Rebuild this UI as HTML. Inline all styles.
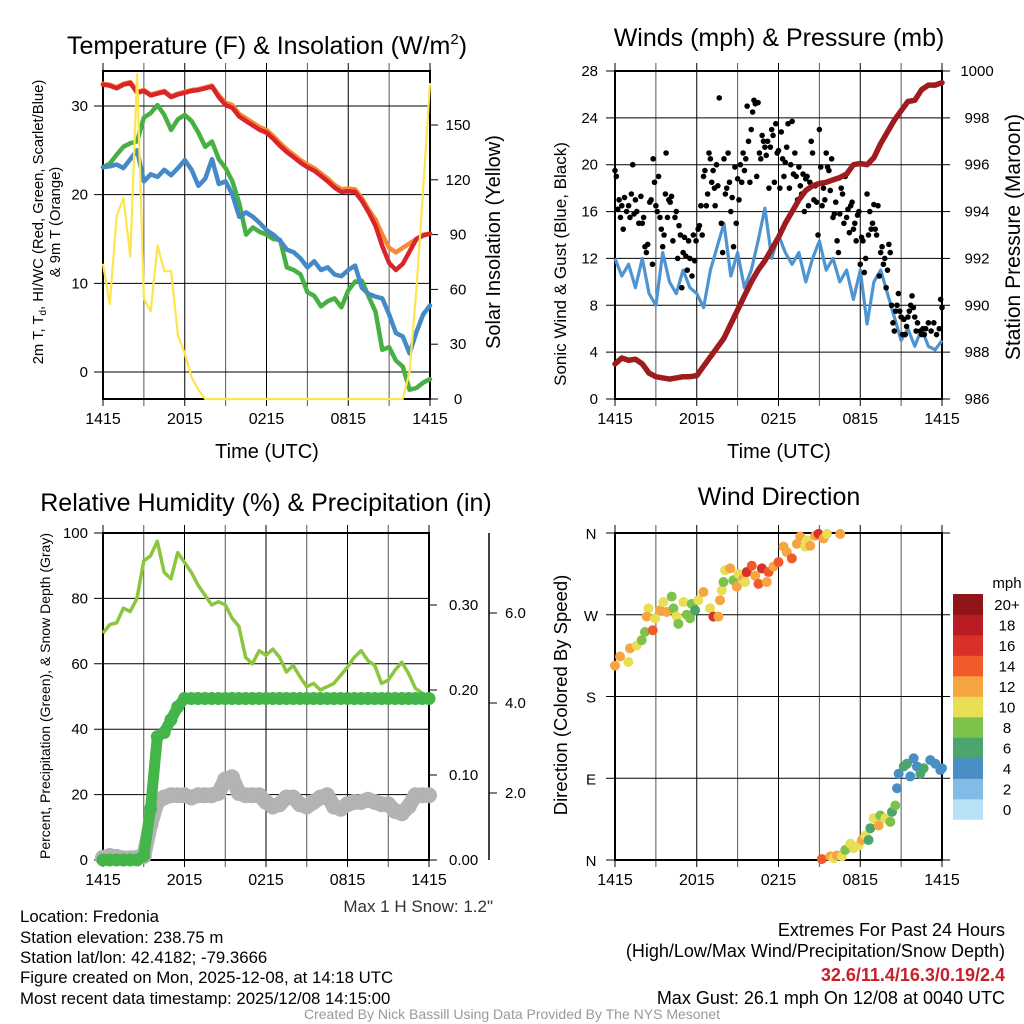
<!DOCTYPE html>
<html><head><meta charset="utf-8"><title>Fredonia Mesonet</title>
<style>
html,body{margin:0;padding:0;background:#fff;}
svg{display:block;font-family:"Liberation Sans",Arial,sans-serif;}
</style></head>
<body>
<svg id="chart" width="1024" height="1024" viewBox="0 0 1024 1024" xmlns="http://www.w3.org/2000/svg">
<rect width="1024" height="1024" fill="#fff"/>
<text x="267" y="54" font-size="25" text-anchor="middle">Temperature (F) &amp; Insolation (W/m<tspan font-size="15" dy="-10">2</tspan><tspan dy="10">)</tspan></text>
<text x="779" y="46" font-size="25" text-anchor="middle">Winds (mph) &amp; Pressure (mb)</text>
<text x="266" y="511" font-size="25" text-anchor="middle">Relative Humidity (%) &amp; Precipitation (in)</text>
<text x="779" y="505" font-size="25" text-anchor="middle">Wind Direction</text>
<g font-size="14.8">
<text transform="translate(43,222) rotate(-90)" text-anchor="middle">2m T, T<tspan font-size="10" dy="3">d</tspan><tspan dy="-3">, HI/WC (Red, Green, Scarlet/Blue)</tspan></text>
<text transform="translate(60,222) rotate(-90)" text-anchor="middle">&amp; 9m T (Orange)</text>
</g>
<text transform="translate(500,242) rotate(-90)" text-anchor="middle" font-size="20">Solar Insolation (Yellow)</text>
<text x="267" y="458" font-size="20" text-anchor="middle">Time (UTC)</text>
<text transform="translate(566,264) rotate(-90)" text-anchor="middle" font-size="17">Sonic Wind &amp; Gust (Blue, Black)</text>
<text transform="translate(1020,237) rotate(-90)" text-anchor="middle" font-size="21">Station Pressure (Maroon)</text>
<text x="779" y="458" font-size="20" text-anchor="middle">Time (UTC)</text>
<text transform="translate(50,696) rotate(-90)" text-anchor="middle" font-size="14">Percent, Precipitation (Green), &amp; Snow Depth (Gray)</text>
<text x="493" y="912" font-size="17" text-anchor="end" fill="#333">Max 1 H Snow: 1.2"</text>
<text transform="translate(567,695) rotate(-90)" text-anchor="middle" font-size="18.5">Direction (Colored By Speed)</text>
<g font-size="16.8">
<text x="20" y="922">Location: Fredonia</text>
<text x="20" y="943">Station elevation: 238.75 m</text>
<text x="20" y="963">Station lat/lon: 42.4182; -79.3666</text>
<text x="20" y="983">Figure created on Mon, 2025-12-08, at 14:18 UTC</text>
<text x="20" y="1004">Most recent data timestamp: 2025/12/08 14:15:00</text>
</g>
<g font-size="18" text-anchor="end">
<text x="1005" y="936">Extremes For Past 24 Hours</text>
<text x="1005" y="957">(High/Low/Max Wind/Precipitation/Snow Depth)</text>
<text x="1005" y="981" fill="#c8202a" font-weight="bold">32.6/11.4/16.3/0.19/2.4</text>
<text x="1005" y="1004">Max Gust: 26.1 mph On 12/08 at 0040 UTC</text>
</g>
<text x="512" y="1019" font-size="14" text-anchor="middle" fill="#999">Created By Nick Bassill Using Data Provided By The NYS Mesonet</text>
</svg>
<script>
// ---- data (half-hourly from 1415 UTC, 49 points) ----
const timeLabels = ["1415","2015","0215","0815","1415"];
const tempRed = [32.4,32.3,32.0,32.4,32.6,31.5,31.7,31.2,31.4,31.6,31.0,31.3,31.5,31.7,31.8,32.0,32.2,31.0,30.1,29.8,28.8,28.3,27.8,27.3,27.0,26.3,25.5,24.8,24.2,23.6,23.1,22.7,22.1,21.5,20.8,20.3,20.4,20.3,19.3,18.0,16.5,14.2,12.3,11.5,12.2,13.6,15.0,15.4,15.6];
const tempOrange = [32.5,32.4,32.1,32.5,32.7,31.6,31.8,31.3,31.5,31.7,31.1,31.4,31.6,31.8,31.9,32.1,32.3,31.2,30.4,30.1,29.1,28.6,28.1,27.6,27.3,26.6,25.8,25.1,24.5,23.9,23.4,23.0,22.4,21.8,21.1,20.6,20.7,20.6,19.6,18.3,17.2,15.5,14.0,13.5,14.0,14.5,15.0,15.5,15.6];
const tempGreen = [23.1,23.5,24.5,25.4,25.8,26.0,28.7,29.2,30.1,29.0,27.3,28.5,29.0,28.3,27.0,25.4,26.0,24.0,23.0,21.5,19.0,15.5,16.3,15.8,15.5,15.0,14.9,11.8,11.5,11.0,9.0,8.6,7.4,8.0,8.3,7.3,9.2,10.2,10.3,8.5,6.8,2.5,2.8,1.3,0.6,-2.0,-1.8,-1.2,-0.8];
const tempBlue = [23.1,23.2,23.4,23.0,24.0,25.0,21.5,22.3,22.0,22.8,22.2,23.0,23.9,22.8,21.0,21.8,24.0,21.2,21.5,20.0,17.5,18.0,17.5,16.8,16.0,15.5,14.8,13.8,13.5,12.8,11.8,12.5,11.5,11.8,11.0,10.8,11.5,12.0,9.5,8.8,8.5,8.3,6.5,4.4,4.0,2.1,4.5,6.5,7.5];
const solar = [74,52,100,110,78,178,55,48,84,70,70,35,25,12,5,0,0,0,0,0,0,0,0,0,0,0,0,0,0,0,0,0,0,0,0,0,0,0,0,0,0,0,0,0,0,15,60,115,173];
const tempTicks = [0,10,20,30];
const solarTicks = [0,30,60,90,120,150];

const windSust = [12,10.5,11.5,9.5,12,9,8,12.5,10,9,11,9.5,9,7.8,11,13,15,10.5,12.5,9.5,11,13.5,16.3,12,14,12.5,11.5,12.5,10,12,13.5,11,12,10,11,8.5,11,6.4,10,11,9,7,5,6,4.5,6,4.5,4.2,5];
const pressure = [987.5,987.75,987.65,987.7,987.5,987.1,986.95,986.9,986.85,986.9,986.95,986.95,987.0,987.4,987.8,988.2,988.6,989.2,989.8,990.4,991.0,991.5,991.9,992.4,992.9,993.5,994.0,994.5,994.9,995.1,995.2,995.25,995.35,995.45,995.6,996.0,996.05,996.0,996.3,996.9,997.4,997.9,998.3,998.7,998.75,999.2,999.4,999.4,999.5];
const gustT = [0.0,0.1,0.2,0.3,0.4,0.5,0.6,0.7,0.85,1.0,1.1,1.2,1.3,1.4,1.5,1.6,1.75,1.9,2.0,2.1,2.2,2.3,2.4,2.55,2.65,2.75,2.8,2.9,3.0,3.1,3.2,3.3,3.4,3.5,3.6,3.7,3.75,3.85,3.95,4.05,4.15,4.25,4.4,4.5,4.6,4.7,4.8,4.9,5.0,5.1,5.2,5.3,5.4,5.5,5.65,5.75,5.85,5.95,6.1,6.2,6.3,6.4,6.5,6.6,6.7,6.8,6.9,7.0,7.1,7.2,7.3,7.35,7.45,7.55,7.65,7.8,7.9,8.0,8.1,8.2,8.3,8.4,8.5,8.6,8.7,8.8,8.9,9.0,9.1,9.2,9.3,9.4,9.5,9.6,9.7,9.8,9.9,10.0,10.1,10.2,10.3,10.4,10.5,10.6,10.7,10.8,10.9,11.0,11.1,11.2,11.3,11.4,11.5,11.6,11.7,11.8,11.9,12.0,12.1,12.2,12.3,12.4,12.5,12.6,12.7,12.8,12.9,13.0,13.1,13.2,13.3,13.4,13.5,13.6,13.7,13.8,13.9,14.0,14.1,14.2,14.3,14.4,14.5,14.6,14.7,14.8,14.9,15.0,15.1,15.2,15.3,15.4,15.5,15.6,15.7,15.8,15.9,16.0,16.1,16.2,16.3,16.4,16.5,16.6,16.7,16.8,16.9,17.0,17.1,17.2,17.3,17.4,17.5,17.6,17.7,17.8,17.9,18.0,18.1,18.2,18.3,18.4,18.5,18.6,18.7,18.8,18.9,19.0,19.1,19.2,19.3,19.4,19.5,19.6,19.7,19.8,19.9,20.0,20.1,20.2,20.3,20.4,20.5,20.6,20.7,20.8,20.9,21.0,21.1,21.2,21.3,21.4,21.5,21.6,21.7,21.8,21.9,22.0,22.1,22.2,22.4,22.5,22.6,22.7,22.8,23.0,23.2,23.4,23.6,23.8,23.9,24.0];
const gustV = [19.5,19.0,16.2,17.0,15.5,16.5,14.5,17.2,16.0,16.5,15.5,17.5,20.0,15.8,17.0,16.0,15.0,17.3,15.0,15.5,13.0,12.5,13.2,16.8,17.0,11.5,20.5,18.5,16.5,16.0,19.0,15.5,14.5,13.0,14.0,17.5,21.0,15.5,17.0,16.8,17.3,13.5,15.5,16.0,12.0,14.8,14.0,9.5,12.5,13.8,12.2,11.0,13.5,12.0,10.5,14.0,11.8,13.5,14.5,14.8,16.5,14.0,19.0,19.5,16.5,17.5,21.0,20.5,18.5,19.5,18.0,16.5,20.0,18.2,25.7,15.0,12.5,20.5,17.5,18.0,21.0,18.5,16.0,17.2,13.0,19.8,15.0,18.8,17.0,20.0,18.5,21.0,19.5,20.5,25.0,22.0,18.5,23.0,24.5,25.5,25.2,19.0,25.3,21.0,20.5,22.5,22.0,21.5,20.8,22.0,18.0,21.5,23.0,22.5,18.5,23.5,21.0,21.2,18.0,22.8,20.5,19.0,20.2,21.5,23.5,18.0,20.0,23.7,19.2,21.0,19.0,17.0,19.8,18.2,17.5,19.2,16.0,18.8,19.0,16.5,18.5,22.0,21.0,17.0,18.2,16.8,14.0,23.0,19.8,16.5,18.0,17.0,21.0,19.8,19.5,17.8,20.5,15.5,15.8,16.8,13.5,12.5,15.8,18.0,17.5,15.0,19.0,15.5,16.2,14.2,16.5,16.8,14.5,15.0,13.5,15.7,16.0,11.5,13.8,13.5,10.8,12.0,17.5,14.0,16.0,14.5,15.0,16.6,14.5,14.0,16.5,10.5,12.5,13.0,11.5,12.0,9.5,11.0,13.2,12.5,8.0,6.5,5.8,7.5,8.0,9.0,7.5,7.0,5.5,6.8,5.5,6.2,7.0,7.5,8.0,8.8,7.8,7.0,5.8,6.5,5.8,5.5,6.0,5.5,6.0,6.5,5.8,6.5,5.5,6.0,8.5,7.8];
const windTicks = [0,4,8,12,16,20,24,28];
const pressTicks = [986,988,990,992,994,996,998,1000];

const rh = [69.4,72,72.5,77,76,80,91.5,93,97.5,88,86,94,91,88,84,81,78,79,78,74,71.5,62,60,64,62.6,64.5,62,57.5,59.5,56,53,54,52,53,54,56.5,59,62,64,61,59.5,54,55,58,60.5,57,52.5,51,50];
const precip = [0,0,0,0,0,0,0.005,0.06,0.145,0.15,0.165,0.18,0.19,0.19,0.19,0.19,0.19,0.19,0.19,0.19,0.19,0.19,0.19,0.19,0.19,0.19,0.19,0.19,0.19,0.19,0.19,0.19,0.19,0.19,0.19,0.19,0.19,0.19,0.19,0.19,0.19,0.19,0.19,0.19,0.19,0.19,0.19,0.19,0.19];
const snow = [0.56,0.6,0.58,0.55,0.55,0.56,0.6,1.3,1.8,1.9,1.95,1.95,1.95,1.9,1.95,1.95,1.95,2.0,2.3,2.35,2.0,1.95,1.95,1.95,1.8,1.7,1.75,1.9,1.9,1.75,1.7,1.8,1.9,1.95,1.7,1.65,1.75,1.8,1.8,1.85,1.8,1.75,1.75,1.6,1.55,1.7,1.95,1.95,1.95];
const rhTicks = [0,20,40,60,80,100];
const precipTicks = ["0.00","0.10","0.20","0.30"];
const snowTicks = ["2.0","4.0","6.0"];

const dirT = [0,0.37,0.98,1.1,1.59,1.96,2.2,2.45,2.33,2.77,2.94,3.31,3.55,3.8,4.16,4.29,4.53,4.65,5.02,5.27,5.51,5.63,5.88,6.12,6.49,6.98,7.22,7.59,7.71,7.84,7.96,8.08,8.45,8.69,8.94,9.06,9.43,9.55,9.67,10.04,10.29,10.53,10.78,11.14,11.27,11.63,12.0,12.37,12.61,12.98,13.35,13.59,13.96,14.08,14.33,14.69,14.94,15.31,15.55,16.53,15.18,15.8,16.04,16.29,16.65,16.9,17.27,17.51,17.88,18.12,18.37,18.61,18.74,18.98,19.35,19.47,19.84,20.21,20.33,20.57,20.7,20.82,21.19,21.43,21.67,21.92,22.16,22.41,22.65,23.14,23.51,23.88,24.0];
const dirDeg = [214,224,218,233,236,242,251,277,268,253,266,275,284,273,290,277,268,260,284,270,266,282,275,286,295,277,268,268,286,297,306,319,321,308,301,315,310,306,317,324,313,304,321,306,317,323,328,345,339,332,348,356,345,352,346,357,359,354,359,359,1,4,2,5,4,11,18,13,16,22,27,22,35,46,38,49,46,42,53,60,79,95,103,106,92,112,103,95,101,110,106,99,101];
const dirSpeed = [12,12,10,12,10,8,8,10,12,14,10,12,10,12,8,8,10,8,10,8,8,8,6,10,12,10,16,12,12,10,8,10,12,8,12,10,12,10,16,14,12,14,16,12,14,12,14,12,12,14,12,12,10,10,12,12,16,12,10,12,14,12,10,12,10,8,10,10,10,12,10,6,6,10,12,8,10,8,6,8,4,4,6,6,4,4,4,6,6,4,4,4,4];
const dirTicks = ["N","E","S","W","N"];
const speedBins = ["0","2","4","6","8","10","12","14","16","18","20+"];
const speedColors = ["#b7e1f7","#82bbe5","#4a8ec6","#4aa66c","#7dc24b","#e8df56","#f7a541","#ef5b2a","#d9302a","#b91c24","#8f1518"];

// ---- drawing ----
const NS = "http://www.w3.org/2000/svg";
const svg = document.getElementById('chart');
function mk(tag, attrs, parent){
  const e = document.createElementNS(NS, tag);
  for (const k in attrs) e.setAttribute(k, attrs[k]);
  (parent || svg).appendChild(e);
  return e;
}
function linScale(d0, d1, r0, r1){ return v => r0 + (v - d0) / (d1 - d0) * (r1 - r0); }
function pathFrom(vals, xs, ys){
  return vals.map((v,i)=> (i?'L':'M') + xs(i/2).toFixed(1) + ',' + ys(v).toFixed(1)).join('');
}

function frame(g, x0, x1, yT, yB, name){
  const xs = linScale(0, 24, x0, x1);
  for (let h = 0; h <= 24; h += 3){
    const ln = mk('line', {x1: xs(h), x2: xs(h), y1: yT - 8, y2: yB + 7, stroke: (h % 6 === 0) ? '#000' : '#555', 'stroke-width': 1}, g);
    
    
  }
  timeLabels.forEach((lab, i) => {
    const t = mk('text', {x: xs(i * 6), y: yB + 25, 'font-size': 16, 'text-anchor': 'middle'}, g);
    t.textContent = lab;
    
    
  });
  const r = mk('rect', {x: x0, y: yT, width: x1 - x0, height: yB - yT, fill: 'none', stroke: '#000', 'stroke-width': 2}, g);
  
  
  return xs;
}
function hTicks(g, ticks, ys, x0, x1, labX, anchor, name, grid, vals){
  ticks.forEach((tv, i) => {
    const v = vals ? vals[i] : tv;
    const y = ys(v);
    const ln = mk('line', {x1: grid ? x0 - 9 : x0, x2: x1, y1: y, y2: y, stroke: '#000', 'stroke-width': 1}, g);
    
    
    const t = mk('text', {x: labX, y: y + 5, 'font-size': 15, 'text-anchor': anchor}, g);
    t.textContent = tv;
    
    
  });
}

// Panel 1
(function(){
  const g = mk('g', {});
  
  
  const x0 = 103, x1 = 430, yT = 71, yB = 399;
  const xs = frame(g, x0, x1, yT, yB, 'temp');
  const yL = linScale(0, 30, 372, 106);
  const yR = linScale(0, 150, 399, 125);
  hTicks(g, tempTicks, yL, x0, x1, 88, 'end', 'temp-y', true);
  hTicks(g, solarTicks, yR, x1, x1 + 8, 458, 'middle', 'solar-y', false);
  const series = [[tempOrange,'#f58a33','temp-9m-line'],[tempRed,'#d9252a','temp-2m-line'],[tempGreen,'#47b043','dewpoint-line'],[tempBlue,'#4489c8','windchill-line']];
  series.forEach(s => {
    const p = mk('path', {d: pathFrom(s[0], xs, yL), fill: 'none', stroke: s[1], 'stroke-width': 4.5, 'stroke-linejoin': 'round', 'stroke-linecap': 'round'}, g);
    
    
  });
  const ps = mk('path', {d: pathFrom(solar, xs, yR), fill: 'none', stroke: '#fde54d', 'stroke-width': 2.2, 'stroke-linejoin': 'round'}, g);
  
  
})();

// Panel 2
(function(){
  const g = mk('g', {});
  
  
  const x0 = 615, x1 = 942, yT = 71, yB = 399;
  const xs = frame(g, x0, x1, yT, yB, 'wind');
  const yL = linScale(0, 28, 399, 71);
  const yR = linScale(986, 1000, 399, 71);
  hTicks(g, windTicks, yL, x0, x1, 598, 'end', 'wind-y', true);
  hTicks(g, pressTicks, yR, x1, x1 + 8, 977, 'middle', 'pressure-y', false);
  const pw = mk('path', {d: pathFrom(windSust, xs, yL), fill: 'none', stroke: '#4d94d2', 'stroke-width': 3.2, 'stroke-linejoin': 'round'}, g);
  
  
  gustT.forEach((t, i) => {
    const c = mk('circle', {cx: xs(t), cy: yL(gustV[i]), r: 2.8, fill: '#000'}, g);
    
    
  });
  const pp = mk('path', {d: pathFrom(pressure, xs, yR), fill: 'none', stroke: '#9e1b1e', 'stroke-width': 5.5, 'stroke-linejoin': 'round', 'stroke-linecap': 'round'}, g);
  
  
})();

// Panel 3
(function(){
  const g = mk('g', {});
  
  
  const x0 = 103, x1 = 429, yT = 533, yB = 860;
  const xs = frame(g, x0, x1, yT, yB, 'rh');
  const yL = linScale(0, 100, 860, 533);
  const yP = linScale(0, 0.1, 860, 775);
  const yS = linScale(2, 4, 793, 703);
  hTicks(g, rhTicks, yL, x0, x1, 88, 'end', 'rh-y', true);
  hTicks(g, precipTicks, yP, x1, x1 + 8, 449, 'start', 'precip-y', false, precipTicks.map(Number));
  const ax = mk('line', {x1: 489, x2: 489, y1: 533, y2: 860, stroke: '#000', 'stroke-width': 1.5}, g);
  
  
  hTicks(g, snowTicks, yS, 489, 497, 505, 'start', 'snow-y', false, snowTicks.map(Number));
  const prh = mk('path', {d: pathFrom(rh, xs, yL), fill: 'none', stroke: '#8cc63f', 'stroke-width': 3.5, 'stroke-linejoin': 'round'}, g);
  
  
  const psn = mk('path', {d: pathFrom(snow, xs, yS), fill: 'none', stroke: '#b3b3b3', 'stroke-width': 15, 'stroke-linejoin': 'round', 'stroke-linecap': 'round'}, g);
  
  
  snow.forEach((v, i) => {
    const c = mk('circle', {cx: xs(i/2), cy: yS(v), r: 8, fill: '#b3b3b3'}, g);
    
    
  });
  const ppr = mk('path', {d: pathFrom(precip, xs, yP), fill: 'none', stroke: '#44b549', 'stroke-width': 11, 'stroke-linejoin': 'round', 'stroke-linecap': 'round'}, g);
  
  
  precip.forEach((v, i) => {
    const c = mk('circle', {cx: xs(i/2), cy: yP(v), r: 6.5, fill: '#44b549'}, g);
    
    
  });
})();

// Panel 4
(function(){
  const g = mk('g', {});
  
  
  const x0 = 615, x1 = 942, yT = 533, yB = 860;
  const xs = frame(g, x0, x1, yT, yB, 'dir');
  const yD = linScale(0, 360, 860, 533);
  dirTicks.forEach((lab, i) => {
    const y = yD(i * 90);
    const ln = mk('line', {x1: x0 - 9, x2: x1 + 8, y1: y, y2: y, stroke: '#000', 'stroke-width': 1}, g);
    
    
    const t = mk('text', {x: 591, y: y + 6, 'font-size': 15, 'text-anchor': 'middle'}, g);
    t.textContent = lab;
    
    
  });
  dirT.forEach((t, i) => {
    const bin = Math.min(10, Math.floor(dirSpeed[i] / 2));
    const c = mk('circle', {cx: xs(t), cy: yD(dirDeg[i]), r: 5, fill: speedColors[bin]}, g);
    
    
  });
  const mph = mk('text', {x: 1007, y: 588, 'font-size': 15, 'text-anchor': 'middle'}, g);
  mph.textContent = 'mph';
  
  
  speedBins.forEach((lab, i) => {
    const top = 594 + (10 - i) * 20.5;
    const r = mk('rect', {x: 953, y: top, width: 30, height: 20.8, fill: speedColors[i]}, g);
    
    
    const t = mk('text', {x: 1007, y: top + 16, 'font-size': 15, 'text-anchor': 'middle'}, g);
    t.textContent = lab;
    
    
  });
})();
</script>
</body></html>
